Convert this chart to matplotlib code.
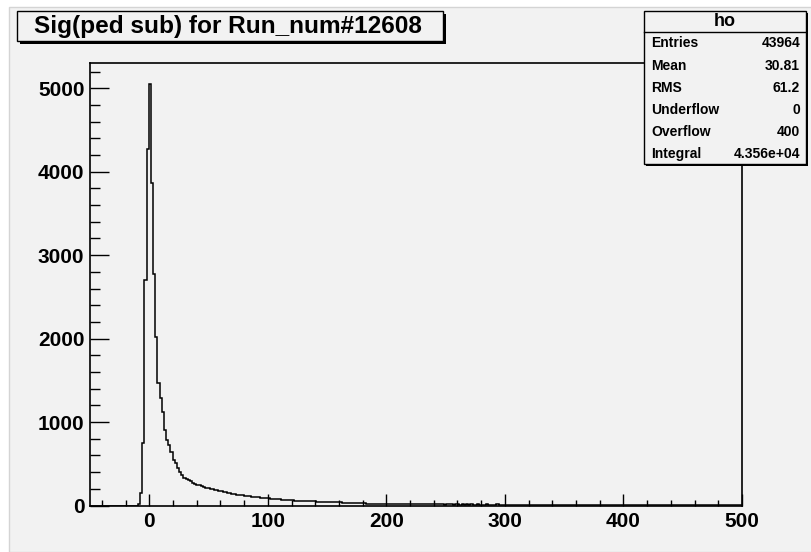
import numpy as np
import matplotlib
matplotlib.use("Agg")
import matplotlib.pyplot as plt
from matplotlib.patches import Rectangle
from matplotlib.ticker import MultipleLocator

plt.rcParams['font.family'] = ['Liberation Sans', 'DejaVu Sans']

# histogram: 300 bins from -50 to 500
x_lo, x_hi, n_bins = -50, 500, 300

counts = [0] * 22 + [
    20, 150, 750, 2700, 4270, 5050, 3860, 2773, 2018, 1468,
    1288, 1124, 904, 785, 725, 645, 545, 509, 449, 405, 365, 329,
    318, 300, 288, 270, 262, 248, 240, 231, 222, 214, 206,
    200, 196, 188, 181, 176, 170, 163, 158, 152, 147, 141, 137, 131, 127,
    124, 121, 117, 114, 110, 107, 104, 101, 98, 95, 92, 90, 87,
    85, 82, 80, 77, 75, 73, 71, 68, 66, 64, 62, 61, 59, 58,
    56, 55, 54, 52, 51, 50, 49, 48, 47, 47, 46, 45, 44, 43,
    42, 41, 39, 38, 37, 36, 34, 33, 32, 31, 30, 29, 28, 27,
    26, 25, 24, 23, 23, 22, 21, 20, 20, 19, 19, 18, 18,
    19, 17, 18, 16, 17, 15, 18, 16, 14, 17, 15, 16, 13, 15, 14, 16, 13, 14, 15, 12,
    14, 13, 15, 12, 13, 14, 11, 13, 12, 14, 11, 13, 12, 10, 13, 11, 12, 10, 12, 11,
    10, 12, 11, 9, 11, 12, 10, 11, 9, 10, 12, 9, 10, 11, 9, 10, 8, 10, 9, 11,
    9, 8, 10, 9, 8, 10, 9, 7, 9, 8, 10, 8, 7, 9, 8, 9, 7, 8, 9, 7,
    8, 9, 7, 8, 6, 8, 7, 9, 7, 6, 8, 7, 8, 6, 7, 8, 6, 7, 7, 6,
    8, 6, 7, 5, 7, 6, 8, 6, 5, 7, 6, 7, 5, 6, 7, 5, 6, 6, 5, 7,
    5, 6, 5, 7, 5, 6, 4, 6, 5, 6, 5, 4, 6, 5, 6, 4, 5, 6, 4, 5,
    6, 4, 5, 5, 4, 6, 4, 5, 4, 5, 5, 4, 6, 4, 5, 4, 5, 4, 5, 4,
    5, 4, 4,
]

title = "Sig(ped sub) for Run_num#12608"
stats_name = "ho"
stats_labels = ["Entries", "Mean", "RMS", "Underflow", "Overflow", "Integral"]
stats_values = ["43964", "30.81", "61.2", "0", "400", "4.356e+04"]

W, H = 811, 552
bg = '#f2f2f2'


def fx(x):
    return x / W


def fy(y):
    return 1 - y / H


def box(x0, y0, x1, y1, shadow=3):
    # ROOT style pave: black drop shadow then the box
    fig.add_artist(Rectangle((fx(x0 + shadow), fy(y1 + shadow)), (x1 - x0) / W, (y1 - y0) / H,
                             transform=fig.transFigure, facecolor='black', edgecolor='none', zorder=5))
    fig.add_artist(Rectangle((fx(x0), fy(y1)), (x1 - x0) / W, (y1 - y0) / H,
                             transform=fig.transFigure, facecolor=bg, edgecolor='black', lw=1, zorder=6))


fig = plt.figure(figsize=(W / 100, H / 100), dpi=100, facecolor='white')
fig.add_artist(Rectangle((fx(9), 0), 1, fy(7), transform=fig.transFigure,
                         facecolor=bg, edgecolor='#d4d4d4', lw=1, zorder=0))

ax = fig.add_axes([fx(90), fy(505.5), (742 - 90) / W, (505.5 - 63) / H])
ax.set_facecolor(bg)

edges = np.linspace(x_lo, x_hi, n_bins + 1)
ax.stairs(counts, edges, color='black', lw=1.1)

ax.set_xlim(x_lo, x_hi)
ax.set_ylim(0, max(counts) * 1.05)
ax.xaxis.set_major_locator(MultipleLocator(100))
ax.xaxis.set_minor_locator(MultipleLocator(20))
ax.yaxis.set_major_locator(MultipleLocator(1000))
ax.yaxis.set_minor_locator(MultipleLocator(200))
ax.tick_params(axis='x', which='major', direction='in', length=9, width=1, pad=5, labelsize=15)
ax.tick_params(axis='x', which='minor', direction='in', length=4.5, width=1)
ax.tick_params(axis='y', which='major', direction='in', length=14, width=1, pad=4, labelsize=15)
ax.tick_params(axis='y', which='minor', direction='in', length=7, width=1)
for lab in ax.get_xticklabels() + ax.get_yticklabels():
    lab.set_fontweight('bold')
for s in ax.spines.values():
    s.set_linewidth(1.2)

# title pave
box(17, 11, 443, 41)
fig.text(fx(228), fy(26), title, ha='center', va='center', fontsize=17.6,
         fontweight='bold', zorder=7)

# stats pave
box(644, 11, 806, 164, shadow=2)
fig.add_artist(plt.Line2D([fx(644), fx(806)], [fy(32), fy(32)], transform=fig.transFigure,
                          color='black', lw=1, zorder=7))
fig.text(fx(725), fy(21), stats_name, ha='center', va='center', fontsize=13,
         fontweight='bold', zorder=7)
for i, (lab, val) in enumerate(zip(stats_labels, stats_values)):
    yy = 43.3 + i * 22.2
    fig.text(fx(651), fy(yy), lab, ha='left', va='center', fontsize=10,
             fontweight='bold', zorder=7)
    fig.text(fx(800), fy(yy), val, ha='right', va='center', fontsize=10,
             fontweight='bold', zorder=7)

fig.savefig('out.png', dpi=100, facecolor='white')
